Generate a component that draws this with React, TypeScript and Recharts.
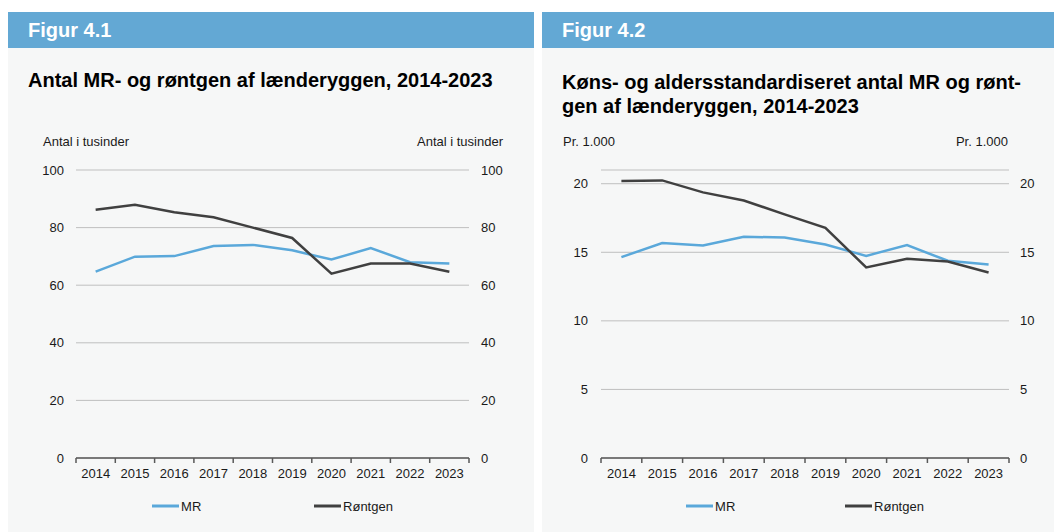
import { LineChart, Line, XAxis, YAxis, CartesianGrid, Legend } from "recharts";

const YEARS = [2014, 2015, 2016, 2017, 2018, 2019, 2020, 2021, 2022, 2023];

// Figur 4.1 – antal i tusinder
const MR_COUNT = [64.7, 69.9, 70.1, 73.6, 74.0, 72.1, 68.9, 72.9, 68.0, 67.5];
const XRAY_COUNT = [86.2, 87.9, 85.3, 83.6, 80.0, 76.4, 64.0, 67.5, 67.5, 64.7];
const COUNT_TICKS = [0, 20, 40, 60, 80, 100];

// Figur 4.2 – pr. 1.000
const MR_RATE = [14.65, 15.67, 15.5, 16.13, 16.08, 15.57, 14.74, 15.52, 14.38, 14.11];
const XRAY_RATE = [20.19, 20.24, 19.37, 18.78, 17.76, 16.79, 13.89, 14.53, 14.33, 13.53];
const RATE_TICKS = [0, 5, 10, 15, 20];

const MR_COLOR = "#5aa8da";
const XRAY_COLOR = "#404040";
const AXIS_COLOR = "#595959";
const GRID_COLOR = "#bfbfbf";
const HEADER_BG = "#63a8d4";
const PANEL_BG = "#f6f7f7";
const TEXT = "#1a1a1a";
const FONT = '"Liberation Sans", Arial, sans-serif';

const buildRows = (mr: number[], xray: number[]) =>
  YEARS.map((year, i) => ({ year, mr: mr[i], xray: xray[i] }));

// Excel-style category ticks: marks sit between the years
function makeYearTick(step: number) {
  return function YearTick(props: any) {
    const { x, y, payload, index } = props;
    const half = step / 2;
    return (
      <g>
        {index === 0 && (
          <line x1={x - half} x2={x - half} y1={y} y2={y + 5} stroke={AXIS_COLOR} strokeWidth={1.5} />
        )}
        <line x1={x + half} x2={x + half} y1={y} y2={y + 5} stroke={AXIS_COLOR} strokeWidth={1.5} />
        <text x={x} y={y + 15} textAnchor="middle" dominantBaseline="central" fontSize={13} fill={TEXT} fontFamily={FONT}>
          {payload.value}
        </text>
      </g>
    );
  };
}

function LegendBox({ itemWidth }: { itemWidth: number }) {
  const items = [
    { name: "MR", color: MR_COLOR },
    { name: "Røntgen", color: XRAY_COLOR },
  ];
  return (
    <div style={{ height: 44, display: "flex", justifyContent: "center", alignItems: "flex-start" }}>
      <div style={{ display: "flex", height: 36, alignItems: "center" }}>
        {items.map((it, i) => (
          <div key={it.name} style={{ display: "flex", alignItems: "center", width: i === 0 ? itemWidth : undefined }}>
            <svg width={27} height={4}>
              <line x1={0} x2={27} y1={2} y2={2} stroke={it.color} strokeWidth={3} />
            </svg>
            <span style={{ fontSize: 13, color: TEXT, marginLeft: 2, fontFamily: FONT }}>{it.name}</span>
          </div>
        ))}
      </div>
    </div>
  );
}

interface PanelProps {
  left: number;
  width: number;
  figure: string;
  title: React.ReactNode;
  titleTop: number;
  unit: string;
  unitLeft: number;
  unitRight: number;
  rows: { year: number; mr: number; xray: number }[];
  ticks: number[];
  domainMax: number;
  margin: { top: number; left: number; right: number; bottom: number };
  axisWidth: number;
  leftTickMargin: number;
  rightTickMargin: number;
  legendItemWidth: number;
}

function Panel(p: PanelProps) {
  const plotWidth = p.width - p.margin.left - p.margin.right - 2 * p.axisWidth;
  const step = plotWidth / YEARS.length;
  const YearTick = makeYearTick(step);
  return (
    <div
      style={{
        position: "absolute",
        left: p.left,
        top: 12,
        width: p.width,
        height: 520,
        background: PANEL_BG,
      }}
    >
      <div
        style={{
          height: 36,
          lineHeight: "36px",
          background: HEADER_BG,
          color: "#fff",
          fontWeight: "bold",
          fontSize: 20,
          paddingLeft: 20,
        }}
      >
        {p.figure}
      </div>
      <div
        style={{
          position: "absolute",
          left: 20,
          top: p.titleTop,
          fontSize: 20,
          lineHeight: "24px",
          fontWeight: "bold",
          color: "#000",
        }}
      >
        {p.title}
      </div>
      <div style={{ position: "absolute", left: p.unitLeft, top: 122, fontSize: 13, lineHeight: "16px", color: TEXT }}>
        {p.unit}
      </div>
      <div style={{ position: "absolute", right: p.unitRight, top: 122, fontSize: 13, lineHeight: "16px", color: TEXT }}>
        {p.unit}
      </div>
      <div style={{ position: "absolute", left: 0, top: 138 }}>
        <LineChart width={p.width} height={382} data={p.rows} margin={p.margin}>
          <CartesianGrid yAxisId="left" vertical={false} stroke={GRID_COLOR} strokeWidth={1} />
          <XAxis
            dataKey="year"
            type="number"
            domain={[YEARS[0] - 0.5, YEARS[YEARS.length - 1] + 0.5]}
            ticks={YEARS}
            interval={0}
            height={30}
            tickSize={0}
            tickMargin={0}
            tickLine={false}
            axisLine={{ stroke: AXIS_COLOR, strokeWidth: 1.5 }}
            tick={YearTick}
          />
          <YAxis
            yAxisId="left"
            orientation="left"
            domain={[0, p.domainMax]}
            ticks={p.ticks}
            width={p.axisWidth}
            axisLine={false}
            tickLine={false}
            tickSize={6}
            tickMargin={p.leftTickMargin}
            tick={{ fontSize: 13, fill: TEXT, fontFamily: FONT }}
          />
          <YAxis
            yAxisId="right"
            orientation="right"
            domain={[0, p.domainMax]}
            ticks={p.ticks}
            width={p.axisWidth}
            axisLine={false}
            tickLine={false}
            tickSize={6}
            tickMargin={p.rightTickMargin}
            tick={{ fontSize: 13, fill: TEXT, fontFamily: FONT }}
          />
          <Legend verticalAlign="bottom" height={44} content={() => <LegendBox itemWidth={p.legendItemWidth} />} />
          {/* invisible twin so the secondary axis gets a scale */}
          <Line
            yAxisId="right"
            type="linear"
            dataKey="mr"
            stroke="none"
            strokeWidth={0}
            dot={false}
            activeDot={false}
            legendType="none"
            isAnimationActive={false}
          />
          <Line
            yAxisId="left"
            type="linear"
            dataKey="mr"
            name="MR"
            stroke={MR_COLOR}
            strokeWidth={2.5}
            dot={false}
            isAnimationActive={false}
          />
          <Line
            yAxisId="left"
            type="linear"
            dataKey="xray"
            name="Røntgen"
            stroke={XRAY_COLOR}
            strokeWidth={2.5}
            dot={false}
            isAnimationActive={false}
          />
        </LineChart>
      </div>
    </div>
  );
}

export default function App() {
  return (
    <div
      style={{
        position: "fixed",
        left: 0,
        top: 0,
        width: 1054,
        height: 532,
        overflow: "hidden",
        background: "#fff",
        fontFamily: FONT,
      }}
    >
      <Panel
        left={8}
        width={526}
        figure="Figur 4.1"
        title="Antal MR- og røntgen af lænderyggen, 2014-2023"
        titleTop={56}
        unit="Antal i tusinder"
        unitLeft={35}
        unitRight={31}
        rows={buildRows(MR_COUNT, XRAY_COUNT)}
        ticks={COUNT_TICKS}
        domainMax={100}
        margin={{ top: 20, left: 18, right: 15, bottom: 0 }}
        axisWidth={50}
        leftTickMargin={6}
        rightTickMargin={6}
        legendItemWidth={162}
      />
      <Panel
        left={542}
        width={512}
        figure="Figur 4.2"
        title={
          <>
            Køns- og aldersstandardiseret antal MR og rønt-
            <br />
            gen af lænderyggen, 2014-2023
          </>
        }
        titleTop={58}
        unit="Pr. 1.000"
        unitLeft={21}
        unitRight={46}
        rows={buildRows(MR_RATE, XRAY_RATE)}
        ticks={RATE_TICKS}
        domainMax={21}
        margin={{ top: 20, left: 14, right: 0, bottom: 0 }}
        axisWidth={45}
        leftTickMargin={7}
        rightTickMargin={5}
        legendItemWidth={159}
      />
    </div>
  );
}
